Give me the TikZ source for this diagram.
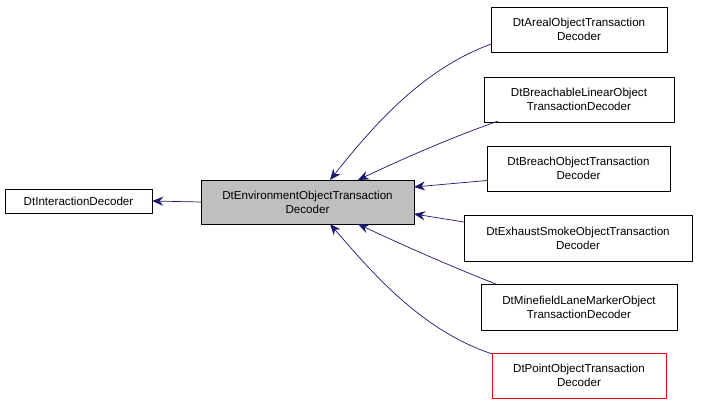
\documentclass[tikz,border=0pt]{standalone}
\usepackage{fontspec}
\setmainfont{Liberation Sans}
\usetikzlibrary{arrows.meta}
\begin{document}
\begin{tikzpicture}[x=1pt,y=-1pt,
 box/.style={draw=black,fill=white,inner sep=0pt,font=\fontsize{11.6}{14}\selectfont,align=center},
 e/.style={draw=midnightblue,-{Stealth[length=11pt,width=9pt]},line width=0.7pt}]
\definecolor{midnightblue}{RGB}{25,25,112}
\useasboundingbox (0,0) rectangle (701,403);
\node[box,minimum width=147,minimum height=24] (a) at (78.5,201) {DtInteractionDecoder};
\node[box,fill={rgb,255:red,191;green,191;blue,191},minimum width=213,minimum height=44] (c) at (307.5,202) {DtEnvironmentObjectTransaction\\Decoder};
\node[box,minimum width=176,minimum height=45] (n1) at (579,29.5) {DtArealObjectTransaction\\Decoder};
\node[box,minimum width=190,minimum height=45] (n2) at (579,99.5) {DtBreachableLinearObject\\TransactionDecoder};
\node[box,minimum width=183,minimum height=45] (n3) at (578.5,168.5) {DtBreachObjectTransaction\\Decoder};
\node[box,minimum width=228,minimum height=46] (n4) at (578,238) {DtExhaustSmokeObjectTransaction\\Decoder};
\node[box,minimum width=196,minimum height=46] (n5) at (579,307) {DtMinefieldLaneMarkerObject\\TransactionDecoder};
\node[box,draw=red,minimum width=174,minimum height=45] (n6) at (579,375.5) {DtPointObjectTransaction\\Decoder};
\draw[e] (c.west) -- (a.east);
\draw[e] (n1.south west) ++(0,-8) .. controls (420,70) and (370,130) .. (330,180);
\draw[e] (n2.south west) ++(14,-1) .. controls (450,138) and (400,160) .. (358,180);
\draw[e] (n3.west) ++(0,12) -- (414,187);
\draw[e] (n4.west) ++(0,-16) -- (414,214);
\draw[e] (n5.north west) ++(17,1) .. controls (450,266) and (400,244) .. (358,224);
\draw[e] (n6.north west) ++(0,1) .. controls (420,330) and (370,270) .. (330,224);
\end{tikzpicture}
\end{document}
